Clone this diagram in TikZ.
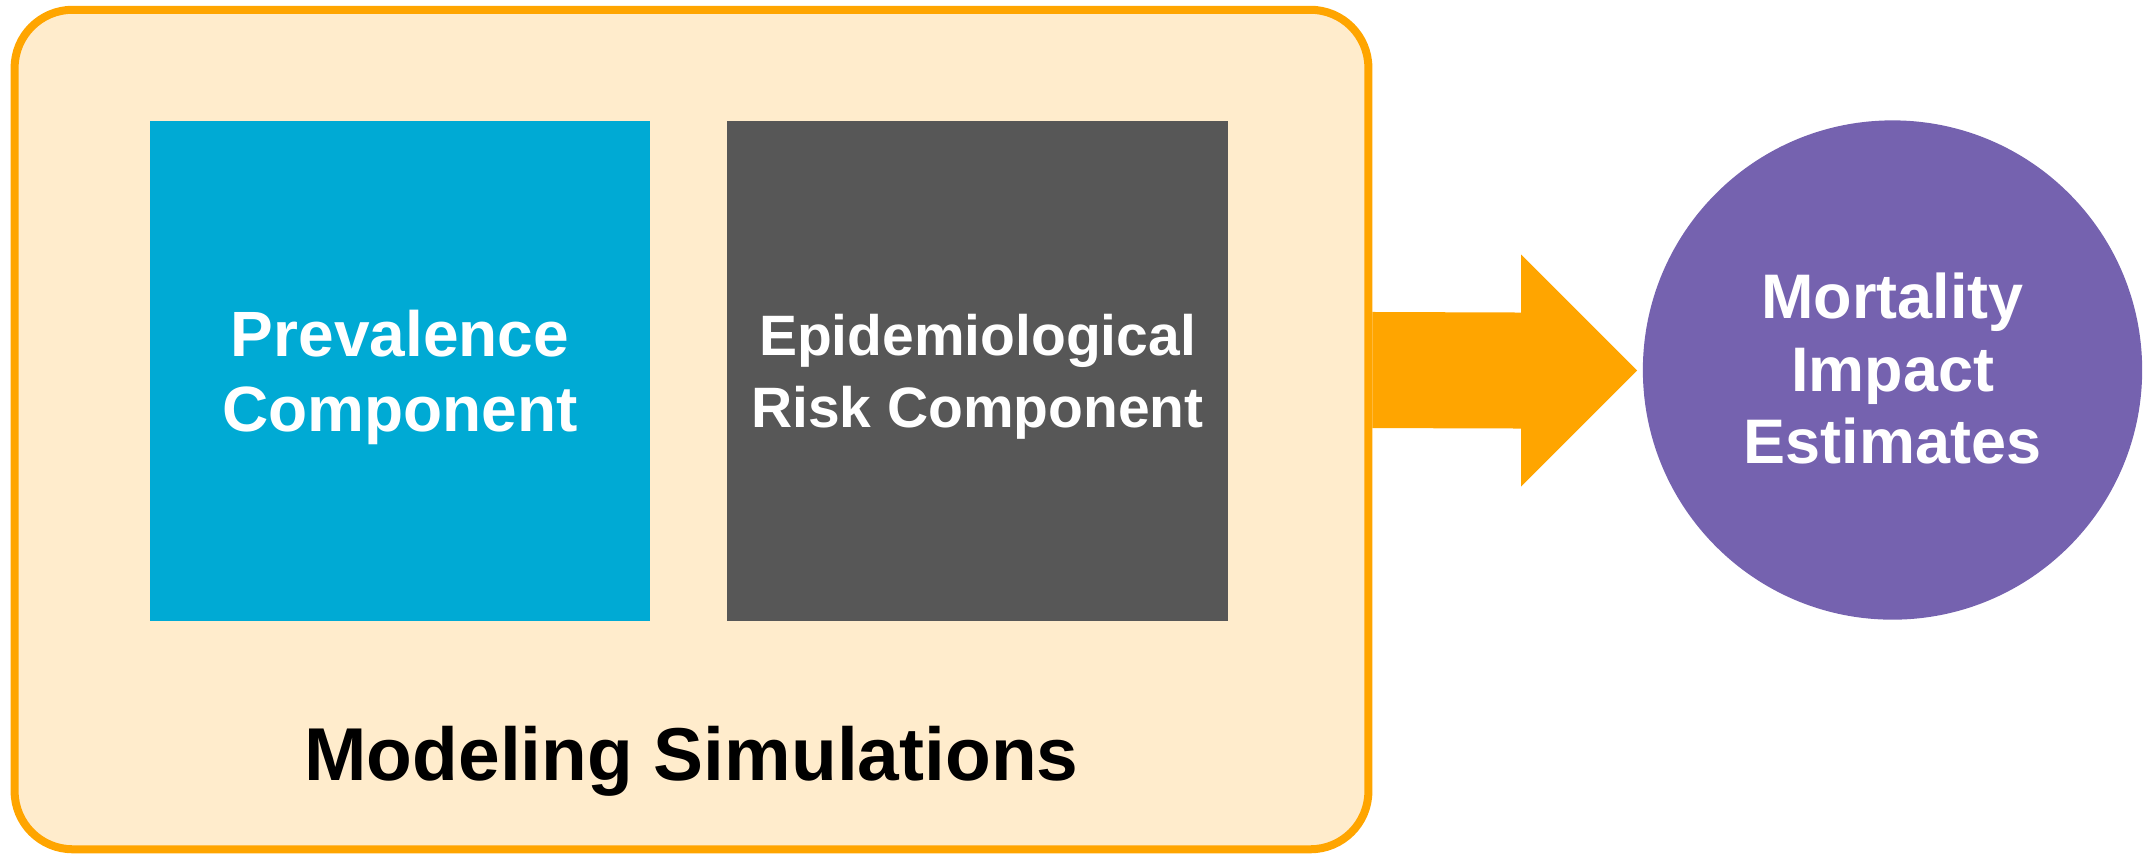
\documentclass[tikz,border=0pt]{standalone}
\usepackage{fontspec}
\setmainfont{Liberation Sans}
\definecolor{borderorange}{HTML}{FFA500}
\definecolor{simfill}{HTML}{FFECCC}
\definecolor{prevblue}{HTML}{00AAD4}
\definecolor{riskgray}{HTML}{575757}
\definecolor{mortpurple}{HTML}{7562AF}
\tikzset{
  simbox/.style={draw=borderorange, fill=simfill, line width=0.08cm, rounded corners=0.58cm,
    minimum width=13.53cm, minimum height=8.39cm, inner sep=0pt},
  compbox/.style={minimum width=5cm, minimum height=5cm, inner sep=0pt},
  whitetext/.style={inner sep=0pt, text=white, align=center},
  resultcircle/.style={circle, fill=mortpurple, minimum size=4.99cm, inner sep=0pt},
  simlabel/.style={anchor=base, inner sep=0pt, text=black, font=\fontsize{21.3}{25}\selectfont\bfseries},
  blockarrow/.style={fill=borderorange, draw=none}
}
\begin{document}
\begin{tikzpicture}[x=0.01cm,y=-0.01cm]
\useasboundingbox (0,0) rectangle (2146,853);
\node[simbox] (sim) at (691.5,429.5) {};
\node[compbox, fill=prevblue] (prev) at (400,371) {};
\node[compbox, fill=riskgray, minimum width=5.01cm] (risk) at (977.5,371) {};
\node[whitetext, font=\fontsize{18.2}{21.3}\selectfont\bfseries] (prevtext) at (400,377.7) {Prevalence\\Component};
\node[whitetext, font=\fontsize{16.2}{20.5}\selectfont\bfseries] (risktext) at (977.5,377) {Epidemiological\\Risk Component};
\node[simlabel] (simtext) at (691.5,780) {Modeling Simulations};
\node[resultcircle] (mort) at (1892.5,370) {};
\node[whitetext, font=\fontsize{17.9}{20.6}\selectfont\bfseries] (morttext) at (1892.5,368.5) {Mortality\\Impact\\Estimates};
\coordinate (tail) at (sim.east |- mort.center);
\coordinate (tip) at (1637,370.5);
\fill[blockarrow] ([yshift=0.58cm]tail) -- (1521,312.5) -- (1521,254.5) -- (tip)
  -- (1521,486.5) -- (1521,428.5) -- ([yshift=-0.58cm]tail) -- cycle;
\end{tikzpicture}
\end{document}
